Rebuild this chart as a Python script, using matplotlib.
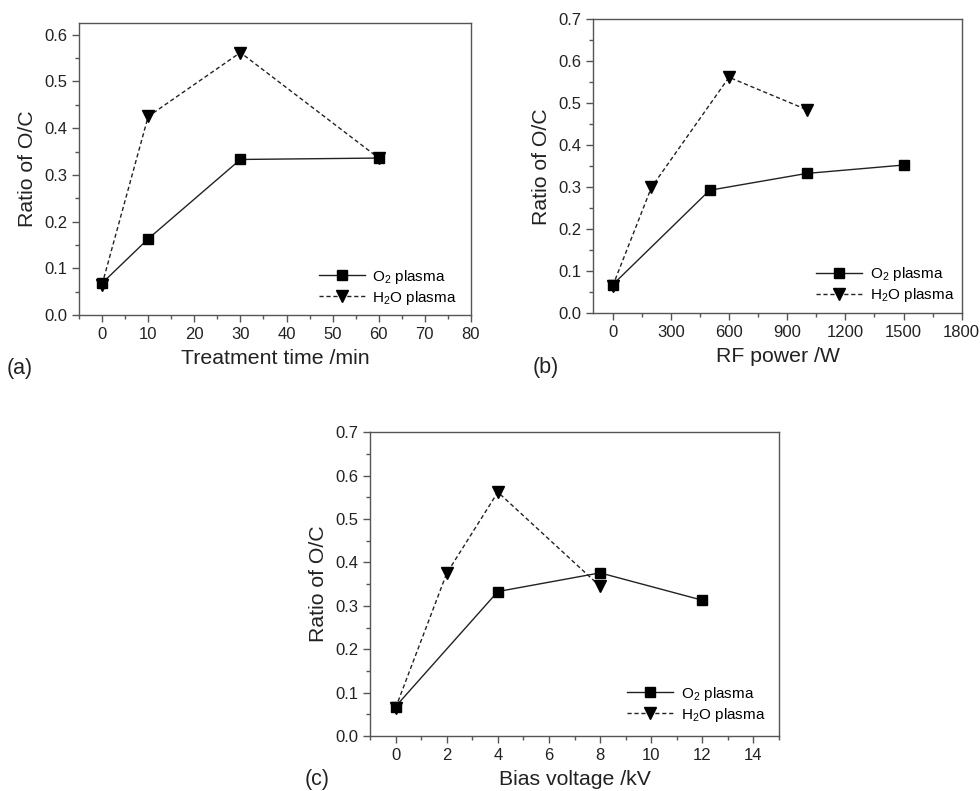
import matplotlib
matplotlib.use("Agg")
import matplotlib.pyplot as plt
from matplotlib.ticker import MultipleLocator, FormatStrFormatter

plt.rcParams['font.family'] = ['Liberation Sans', 'DejaVu Sans']
plt.rcParams['mathtext.fontset'] = 'custom'
plt.rcParams['mathtext.rm'] = 'Liberation Sans'
plt.rcParams['mathtext.it'] = 'Liberation Sans'

# Panel (a): treatment time
time_o2 = [0, 10, 30, 60]
ratio_time_o2 = [0.068, 0.163, 0.333, 0.336]
time_h2o = [0, 10, 30, 60]
ratio_time_h2o = [0.065, 0.425, 0.562, 0.336]

# Panel (b): RF power
power_o2 = [0, 500, 1000, 1500]
ratio_power_o2 = [0.068, 0.293, 0.333, 0.353]
power_h2o = [0, 200, 600, 1000]
ratio_power_h2o = [0.065, 0.300, 0.562, 0.485]

# Panel (c): bias voltage
bias_o2 = [0, 4, 8, 12]
ratio_bias_o2 = [0.068, 0.333, 0.376, 0.313]
bias_h2o = [0, 2, 4, 8]
ratio_bias_h2o = [0.065, 0.375, 0.562, 0.345]

label_o2 = 'O$_2$ plasma'
label_h2o = 'H$_2$O plasma'
ylabel = 'Ratio of O/C'
xlabels = ['Treatment time /min', 'RF power /W', 'Bias voltage /kV']
panel_tags = ['(a)', '(b)', '(c)']

fig = plt.figure(figsize=(9.8, 7.91), dpi=100)

axes_rects = [
    [0.0806, 0.6018, 0.4000, 0.3690],
    [0.6054, 0.6039, 0.3759, 0.3717],
    [0.3776, 0.0695, 0.4173, 0.3840],
]
xlims = [(-5, 80), (-100, 1800), (-1, 15)]
ylims = [(0, 0.625), (0, 0.7), (0, 0.7)]
xmajor = [10, 300, 2]
xminor = [5, 150, 1]
data = [
    (time_o2, ratio_time_o2, time_h2o, ratio_time_h2o),
    (power_o2, ratio_power_o2, power_h2o, ratio_power_h2o),
    (bias_o2, ratio_bias_o2, bias_h2o, ratio_bias_h2o),
]
legend_anchor = [(1.003, -0.024), (1.022, -0.020), (1.004, -0.010)]
tag_pos = [(7, 369), (533, 368), (305, 780)]

line_col = '#222222'
spine_col = '#555555'

for i in range(3):
    ax = fig.add_axes(axes_rects[i])
    xo, yo, xh, yh = data[i]
    ax.plot(xo, yo, color=line_col, lw=1.0, ls='-', marker='s', ms=7,
            mfc='black', mec='black', label=label_o2, zorder=3)
    ax.plot(xh, yh, color=line_col, lw=1.0, ls=(0, (3, 2)), marker='v', ms=8,
            mfc='black', mec='black', label=label_h2o, zorder=3)
    ax.set_xlim(*xlims[i])
    ax.set_ylim(*ylims[i])
    ax.xaxis.set_major_locator(MultipleLocator(xmajor[i]))
    ax.xaxis.set_minor_locator(MultipleLocator(xminor[i]))
    ax.yaxis.set_major_locator(MultipleLocator(0.1))
    ax.yaxis.set_minor_locator(MultipleLocator(0.05))
    ax.yaxis.set_major_formatter(FormatStrFormatter('%.1f'))
    ax.tick_params(which='both', direction='out', top=False, right=False,
                   colors=spine_col, labelcolor='#222222', labelsize=12)
    ax.tick_params(which='major', length=5, width=1)
    ax.tick_params(which='minor', length=3, width=1)
    for s in ax.spines.values():
        s.set_color(spine_col)
        s.set_linewidth(1.0)
    ax.set_ylabel(ylabel, fontsize=15.3, color='#222222', labelpad=5)
    ax.set_xlabel(xlabels[i], fontsize=15.3, color='#222222', labelpad=5)
    ax.legend(loc='lower right', frameon=False, fontsize=11, handlelength=3.0,
              handletextpad=0.5, labelspacing=0.2, borderaxespad=0.6,
              bbox_to_anchor=legend_anchor[i])
    fx, fy = tag_pos[i]
    fig.text(fx / 980, 1 - fy / 791, panel_tags[i], fontsize=15.5, color='#222222',
             ha='left', va='center')

fig.savefig('out.png', dpi=100)
